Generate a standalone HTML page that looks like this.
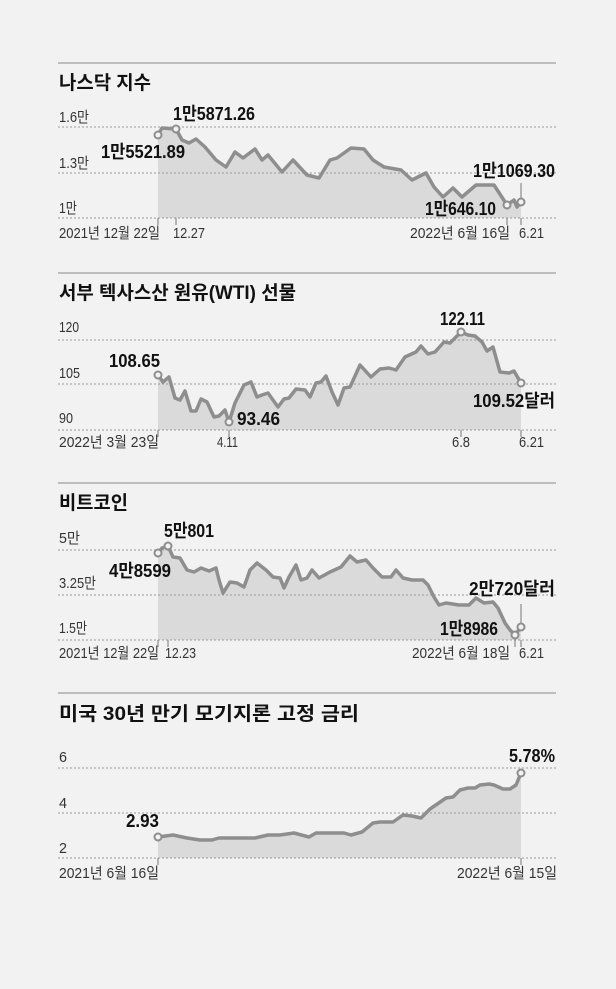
<!DOCTYPE html>
<html><head><meta charset="utf-8"><style>
html,body{margin:0;padding:0;background:#f2f2f2}
svg{display:block}
text{font-family:"Liberation Sans","Noto Sans CJK KR",sans-serif;fill:#222}
.t{font-weight:bold;font-size:19px;fill:#111}
.ax{font-size:15px;fill:#333}
.b{font-weight:bold;font-size:18px;fill:#111}
.g{stroke:#999;stroke-width:1;stroke-dasharray:2,2}
.a{fill:#dadada;stroke:none}
.l{fill:none;stroke:#8e8e8e;stroke-width:3.5;stroke-linejoin:round}
.c{fill:#f2f2f2;stroke:#8e8e8e;stroke-width:2}
.k{stroke:#777;stroke-width:1}
</style></head><body>
<svg width="616" height="989" viewBox="0 0 616 989">
<!-- Panel 1 -->
<line x1="58" y1="63" x2="556" y2="63" stroke="#888" stroke-width="1"/>
<text class="t" x="59" y="89" textLength="92" lengthAdjust="spacingAndGlyphs">나스닥 지수</text>
<text class="ax" x="59" y="122" textLength="30" lengthAdjust="spacingAndGlyphs">1.6만</text>
<text class="ax" x="59" y="168" textLength="30" lengthAdjust="spacingAndGlyphs">1.3만</text>
<text class="ax" x="59" y="213" textLength="18" lengthAdjust="spacingAndGlyphs">1만</text>
<polygon class="a" points="158,135 162,128 176,129 182,140 189,143 196,139 205,147 216,160 226,167 235,152 243,158 255,149 262,160 268,155 282,172 293,160 307,175 319,178 330,160 337,158 351,148 364,149 373,160 384,167 401,170 412,180 426,173 434,187 443,197 453,188 462,197 476,185 494,185 507,205 514,200 517,207 521,202 521,218 158,218"/>
<line class="g" x1="58" y1="127" x2="556" y2="127"/><line class="g" x1="58" y1="173" x2="556" y2="173"/><line class="g" x1="58" y1="218" x2="556" y2="218"/>
<polyline class="l" points="158,135 162,128 176,129 182,140 189,143 196,139 205,147 216,160 226,167 235,152 243,158 255,149 262,160 268,155 282,172 293,160 307,175 319,178 330,160 337,158 351,148 364,149 373,160 384,167 401,170 412,180 426,173 434,187 443,197 453,188 462,197 476,185 494,185 507,205 514,200 517,207 521,202"/>
<line class="k" x1="158" y1="218" x2="158" y2="225"/><line class="k" x1="176" y1="218" x2="176" y2="225"/><line class="k" x1="507" y1="218" x2="507" y2="225"/><line class="k" x1="521" y1="218" x2="521" y2="225"/>
<line class="k" x1="521" y1="183" x2="521" y2="200"/>
<circle class="c" cx="158" cy="135" r="3.5"/><circle class="c" cx="176" cy="129" r="3.5"/><circle class="c" cx="507" cy="205" r="3.5"/><circle class="c" cx="521" cy="202" r="3.5"/>
<text class="b" x="173" y="120" textLength="82" lengthAdjust="spacingAndGlyphs">1만5871.26</text>
<text class="b" x="101" y="158" textLength="84" lengthAdjust="spacingAndGlyphs">1만5521.89</text>
<text class="b" x="473" y="177" textLength="82" lengthAdjust="spacingAndGlyphs">1만1069.30</text>
<text class="b" x="425" y="215" textLength="71" lengthAdjust="spacingAndGlyphs">1만646.10</text>
<text class="ax" x="59" y="238" textLength="101" lengthAdjust="spacingAndGlyphs">2021년 12월 22일</text>
<text class="ax" x="173" y="238" textLength="32" lengthAdjust="spacingAndGlyphs">12.27</text>
<text class="ax" x="410" y="238" textLength="100" lengthAdjust="spacingAndGlyphs">2022년 6월 16일</text>
<text class="ax" x="519" y="238" textLength="25" lengthAdjust="spacingAndGlyphs">6.21</text>

<!-- Panel 2 -->
<line x1="58" y1="273" x2="556" y2="273" stroke="#888" stroke-width="1"/>
<text class="t" x="59" y="299" textLength="237" lengthAdjust="spacingAndGlyphs">서부 텍사스산 원유(WTI) 선물</text>
<text class="ax" x="59" y="332" textLength="20" lengthAdjust="spacingAndGlyphs">120</text>
<text class="ax" x="59" y="378" textLength="21" lengthAdjust="spacingAndGlyphs">105</text>
<text class="ax" x="59" y="423" textLength="14" lengthAdjust="spacingAndGlyphs">90</text>
<polygon class="a" points="158,375 163,382 169,377 175,398 180,400 185,391 191,411 196,411 201,399 207,402 214,417 219,416 225,410 229,422 235,403 244,385 251,382 257,397 262,395 268,393 273,400 278,407 284,399 289,398 296,389 305,390 310,397 316,383 321,382 326,376 332,392 338,405 344,388 350,387 360,365 371,377 380,369 389,368 396,370 405,357 416,352 421,346 428,354 435,352 444,342 450,343 455,338 461,332 468,335 475,336 482,342 487,351 493,347 500,372 509,373 514,371 521,383 521,430 158,430"/>
<line class="g" x1="58" y1="340" x2="556" y2="340"/><line class="g" x1="58" y1="384" x2="556" y2="384"/><line class="g" x1="58" y1="430" x2="556" y2="430"/>
<polyline class="l" points="158,375 163,382 169,377 175,398 180,400 185,391 191,411 196,411 201,399 207,402 214,417 219,416 225,410 229,422 235,403 244,385 251,382 257,397 262,395 268,393 273,400 278,407 284,399 289,398 296,389 305,390 310,397 316,383 321,382 326,376 332,392 338,405 344,388 350,387 360,365 371,377 380,369 389,368 396,370 405,357 416,352 421,346 428,354 435,352 444,342 450,343 455,338 461,332 468,335 475,336 482,342 487,351 493,347 500,372 509,373 514,371 521,383"/>
<line class="k" x1="158" y1="430" x2="158" y2="437"/><line class="k" x1="229" y1="430" x2="229" y2="437"/><line class="k" x1="461" y1="430" x2="461" y2="437"/><line class="k" x1="521" y1="430" x2="521" y2="437"/>
<circle class="c" cx="158" cy="375" r="3.5"/><circle class="c" cx="229" cy="422" r="3.5"/><circle class="c" cx="461" cy="332" r="3.5"/><circle class="c" cx="521" cy="383" r="3.5"/>
<text class="b" x="109" y="367" textLength="51" lengthAdjust="spacingAndGlyphs">108.65</text>
<text class="b" x="237" y="425" textLength="43" lengthAdjust="spacingAndGlyphs">93.46</text>
<text class="b" x="440" y="325" textLength="45" lengthAdjust="spacingAndGlyphs">122.11</text>
<text class="b" x="473" y="407" textLength="82" lengthAdjust="spacingAndGlyphs">109.52달러</text>
<text class="ax" x="59" y="447" textLength="100" lengthAdjust="spacingAndGlyphs">2022년 3월 23일</text>
<text class="ax" x="217" y="447" textLength="21" lengthAdjust="spacingAndGlyphs">4.11</text>
<text class="ax" x="452" y="447" textLength="18" lengthAdjust="spacingAndGlyphs">6.8</text>
<text class="ax" x="519" y="447" textLength="25" lengthAdjust="spacingAndGlyphs">6.21</text>

<!-- Panel 3 -->
<line x1="58" y1="483" x2="556" y2="483" stroke="#888" stroke-width="1"/>
<text class="t" x="59" y="509" textLength="69" lengthAdjust="spacingAndGlyphs">비트코인</text>
<text class="ax" x="59" y="543" textLength="21" lengthAdjust="spacingAndGlyphs">5만</text>
<text class="ax" x="59" y="588" textLength="37" lengthAdjust="spacingAndGlyphs">3.25만</text>
<text class="ax" x="59" y="633" textLength="28" lengthAdjust="spacingAndGlyphs">1.5만</text>
<polygon class="a" points="158,553 162,548 168,546 173,557 180,558 187,570 194,572 201,568 209,571 216,568 219,580 223,593 230,582 237,583 244,587 250,570 257,563 266,570 273,577 280,578 284,588 289,577 296,565 301,580 307,578 312,570 319,578 330,572 341,567 350,556 357,562 366,560 373,568 382,577 391,577 396,570 403,578 412,580 423,580 428,585 434,597 439,605 446,603 459,605 469,605 476,598 484,603 493,602 498,608 505,623 510,630 515,635 521,627 521,640 158,640"/>
<line class="g" x1="58" y1="550" x2="556" y2="550"/><line class="g" x1="58" y1="595" x2="556" y2="595"/><line class="g" x1="58" y1="640" x2="556" y2="640"/>
<polyline class="l" points="158,553 162,548 168,546 173,557 180,558 187,570 194,572 201,568 209,571 216,568 219,580 223,593 230,582 237,583 244,587 250,570 257,563 266,570 273,577 280,578 284,588 289,577 296,565 301,580 307,578 312,570 319,578 330,572 341,567 350,556 357,562 366,560 373,568 382,577 391,577 396,570 403,578 412,580 423,580 428,585 434,597 439,605 446,603 459,605 469,605 476,598 484,603 493,602 498,608 505,623 510,630 515,635 521,627"/>
<line class="k" x1="158" y1="640" x2="158" y2="647"/><line class="k" x1="168" y1="640" x2="168" y2="647"/><line class="k" x1="515" y1="640" x2="515" y2="647"/><line class="k" x1="521" y1="640" x2="521" y2="647"/>
<line class="k" x1="521" y1="604" x2="521" y2="623"/>
<circle class="c" cx="158" cy="553" r="3.5"/><circle class="c" cx="168" cy="546" r="3.5"/><circle class="c" cx="515" cy="635" r="3.5"/><circle class="c" cx="521" cy="627" r="3.5"/>
<text class="b" x="164" y="537" textLength="50" lengthAdjust="spacingAndGlyphs">5만801</text>
<text class="b" x="109" y="577" textLength="62" lengthAdjust="spacingAndGlyphs">4만8599</text>
<text class="b" x="469" y="595" textLength="86" lengthAdjust="spacingAndGlyphs">2만720달러</text>
<text class="b" x="440" y="635" textLength="58" lengthAdjust="spacingAndGlyphs">1만8986</text>
<text class="ax" x="59" y="658" textLength="100" lengthAdjust="spacingAndGlyphs">2021년 12월 22일</text>
<text class="ax" x="165" y="658" textLength="31" lengthAdjust="spacingAndGlyphs">12.23</text>
<text class="ax" x="412" y="658" textLength="98" lengthAdjust="spacingAndGlyphs">2022년 6월 18일</text>
<text class="ax" x="519" y="658" textLength="25" lengthAdjust="spacingAndGlyphs">6.21</text>

<!-- Panel 4 -->
<line x1="58" y1="693" x2="556" y2="693" stroke="#888" stroke-width="1"/>
<text class="t" x="59" y="720" textLength="300" lengthAdjust="spacingAndGlyphs">미국 30년 만기 모기지론 고정 금리</text>
<text class="ax" x="59" y="762" textLength="8" lengthAdjust="spacingAndGlyphs">6</text>
<text class="ax" x="59" y="808" textLength="8" lengthAdjust="spacingAndGlyphs">4</text>
<text class="ax" x="59" y="853" textLength="8" lengthAdjust="spacingAndGlyphs">2</text>
<polygon class="a" points="158,837 173,835 187,838 200,840 212,840 219,838 255,838 268,835 280,835 294,833 309,837 316,833 344,833 351,835 362,832 373,823 380,822 393,822 403,815 412,816 421,818 430,809 446,798 453,797 460,790 468,788 475,788 480,785 489,784 494,785 503,789 510,789 516,785 521,773 521,858 158,858"/>
<line class="g" x1="58" y1="768" x2="556" y2="768"/><line class="g" x1="58" y1="813" x2="556" y2="813"/><line class="g" x1="58" y1="858" x2="556" y2="858"/>
<polyline class="l" points="158,837 173,835 187,838 200,840 212,840 219,838 255,838 268,835 280,835 294,833 309,837 316,833 344,833 351,835 362,832 373,823 380,822 393,822 403,815 412,816 421,818 430,809 446,798 453,797 460,790 468,788 475,788 480,785 489,784 494,785 503,789 510,789 516,785 521,773"/>
<line class="k" x1="158" y1="858" x2="158" y2="865"/><line class="k" x1="521" y1="858" x2="521" y2="865"/>
<circle class="c" cx="158" cy="837" r="3.5"/><circle class="c" cx="521" cy="773" r="3.5"/>
<text class="b" x="509" y="762" textLength="46" lengthAdjust="spacingAndGlyphs">5.78%</text>
<text class="b" x="126" y="827" textLength="33" lengthAdjust="spacingAndGlyphs">2.93</text>
<text class="ax" x="59" y="878" textLength="100" lengthAdjust="spacingAndGlyphs">2021년 6월 16일</text>
<text class="ax" x="457" y="878" textLength="100" lengthAdjust="spacingAndGlyphs">2022년 6월 15일</text>
</svg>
</body></html>
